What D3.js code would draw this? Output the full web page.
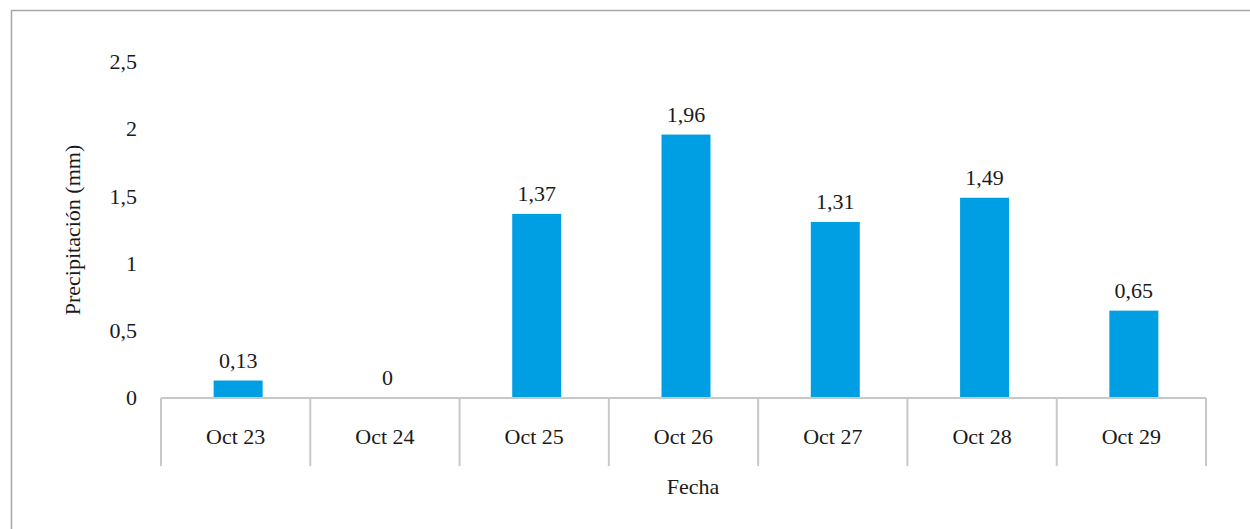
<!DOCTYPE html>
<html><head><meta charset="utf-8">
<script src="https://cdn.jsdelivr.net/npm/d3@7"></script>
<style>body{margin:0;background:#fff}svg{display:block}svg text{font-family:'Liberation Serif',serif}</style>
</head><body>
<script>
const categories = ["Oct 23","Oct 24","Oct 25","Oct 26","Oct 27","Oct 28","Oct 29"];
const values = [0.13, 0, 1.37, 1.96, 1.31, 1.49, 0.65];
const yTicks = [0, 0.5, 1, 1.5, 2, 2.5];
const yTitle = "Precipitación (mm)";
const xTitle = "Fecha";

const FS = 22;
const W = 1250, H = 529;
const svg = d3.select("body").append("svg").attr("width", W).attr("height", H)
  .attr("font-family", "Liberation Serif");
svg.append("rect").attr("x", 11.5).attr("y", 10.5).attr("width", W).attr("height", H)
  .attr("fill", "none").attr("stroke", "#a6a6a6").attr("stroke-width", 1.5);

const x0 = 161, x1 = 1206, yB = 398;
const x = d3.scaleBand().domain(categories).range([x0, x1]);
const y = d3.scaleLinear().domain([0, 2.5]).range([yB, 62]);
const fmt = v => String(v).replace(".", ",");
const txt = sel => sel.attr("font-family", "Liberation Serif").attr("font-size", FS).attr("fill", "#1a1a1a");

svg.selectAll("rect.bar").data(values).join("rect").attr("class","bar")
  .attr("x", (d,i) => x(categories[i]) + x.bandwidth()*0.5 - 22)
  .attr("width", 49)
  .attr("y", d => y(d)).attr("height", d => yB - y(d))
  .attr("fill", "#009fe3");

svg.selectAll("text.val").data(values).join("text").attr("class","val")
  .attr("x", (d,i) => x(categories[i]) + x.bandwidth()*0.5 + 2.5)
  .attr("y", d => y(d) - 13)
  .attr("text-anchor","middle").call(txt).text(d => fmt(d));

svg.selectAll("text.yt").data(yTicks).join("text").attr("class","yt")
  .attr("x", 137).attr("y", d => y(d)).attr("dy","0.33em")
  .attr("text-anchor","end").call(txt).text(d => fmt(d));

const g = svg.append("g").attr("stroke", "#c8c8c8").attr("stroke-width", 2);
g.append("line").attr("x1", x0).attr("x2", x1).attr("y1", yB).attr("y2", yB);
const bounds = categories.map(c => x(c)).concat([x1]);
g.selectAll("line.div").data(bounds).join("line").attr("class","div")
  .attr("x1", d => d).attr("x2", d => d).attr("y1", yB).attr("y2", 466);

svg.selectAll("text.xt").data(categories).join("text").attr("class","xt")
  .attr("x", d => x(d) + x.bandwidth()/2).attr("y", 437).attr("dy","0.33em")
  .attr("text-anchor","middle").call(txt).text(d => d);

svg.append("text").attr("x", 693).attr("y", 487).attr("dy","0.33em")
  .attr("text-anchor","middle").call(txt).text(xTitle);

svg.append("text").attr("transform", `translate(73,230) rotate(-90)`).attr("dy","0.33em")
  .attr("text-anchor","middle").call(txt).text(yTitle);
</script>
</body></html>
